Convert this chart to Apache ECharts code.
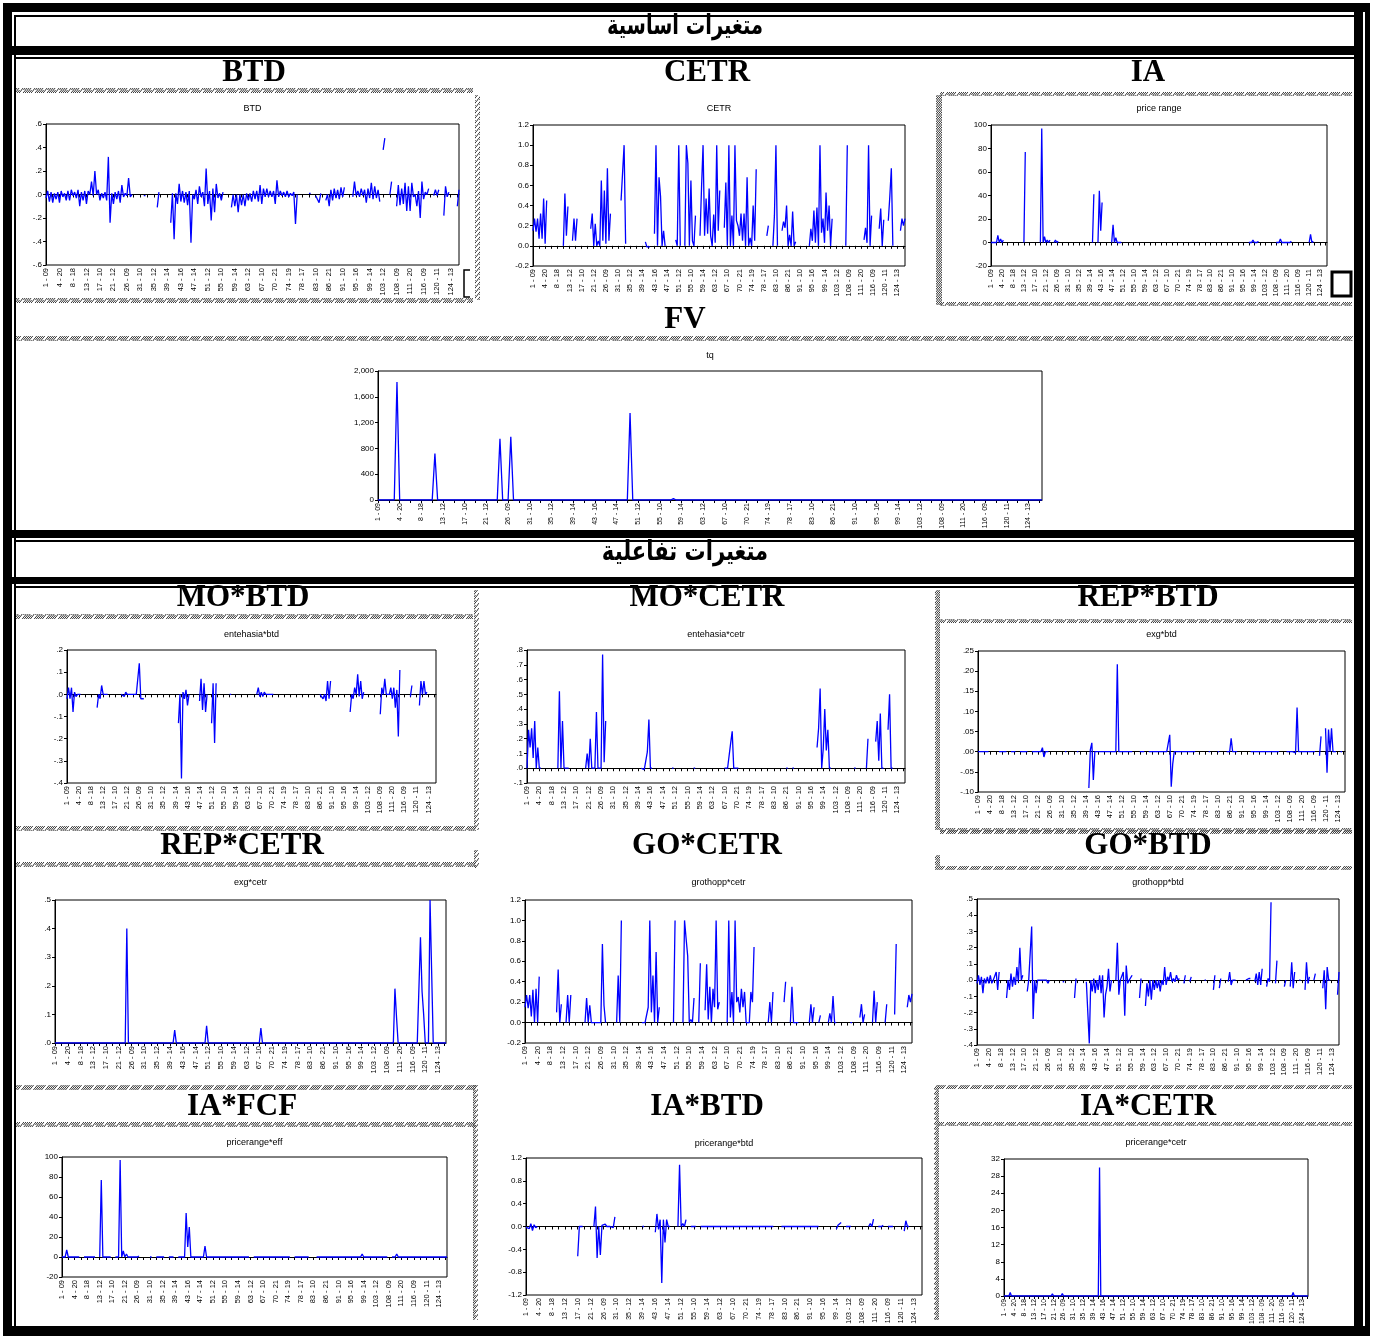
<!DOCTYPE html>
<html><head><meta charset="utf-8">
<script src="https://cdn.jsdelivr.net/npm/echarts@6/dist/echarts.min.js"></script>
<style>html,body{margin:0;padding:0;background:#fff}#c{width:1373px;height:1336px}</style>
</head><body><div id="c"></div><script>
const _ = null;
const tickLabels = ['1 - 09','4 - 20','8 - 18','13 - 12','17 - 10','21 - 12','26 - 09','31 - 10','35 - 12','39 - 14','43 - 16','47 - 14','51 - 12','55 - 10','59 - 14','63 - 12','67 - 10','70 - 21','74 - 19','78 - 17','83 - 10','86 - 21','91 - 10','95 - 16','99 - 14','103 - 12','108 - 09','111 - 20','116 - 09','120 - 11','124 - 13'];

// each entry = one bin of observations: null (missing), a value, or [first,second] range
const BTD = [
 [-.03,.03],[-.06,.02],[-.07,.01],[-.04,.02],[-.07,.03],[-.02,.01],[-.05,.03],[-.05,.04],[-.01,.02],[-.03,.04],
 [-.1,.02],[-.05,.03],[-.08,.03],[0,.11],[-.01,.2],[0,.04],[-.05,.01],[-.03,.02],[-.05,.32],[-.24,.01],
 [-.08,.02],[-.04,.03],[-.07,.08],[-.02,.01],[-.01,.14],[-.02,0],_,_,_,-.01,
 _,_,_,[-.11,.02],_,_,_,[-.24,.01],[-.38,.01],[-.08,.09],
 [-.06,.03],[-.07,.02],[-.09,.03],[-.41,0],[-.04,.04],[-.08,.07],[-.02,.02],[-.1,.22],[-.08,.03],[-.22,.05],
 [-.15,.09],[-.03,.01],[-.05,.02],_,_,[-.11,0],[-.1,0],[-.15,0],[-.09,0],[-.1,.01],
 [-.05,.01],[-.06,.03],[-.04,.03],[-.06,.08],[-.08,.05],[-.02,.05],[-.02,.03],[-.02,.03],[-.08,.12],[-.02,.03],
 [-.01,.02],[-.02,.03],[-.02,.01],[-.01,.02],[-.25,0],_,_,_,.01,_,
 -.01,[-.07,.01],_,[-.05,0],[-.1,.04],[-.05,.05],[-.03,.04],[-.04,.06],[-.02,.06],_,
 _,[-.02,.11],[-.01,.03],[-.02,.05],[-.01,.04],[-.07,.05],[-.03,.1],[-.04,.07],[-.03,.04],[-.06,_],
 [.38,.48],_,[0,.11],_,[-.1,.08],[-.09,.05],[-.08,.1],[-.14,.07],[-.14,.1],[-.02,0],
 [-.1,.03],[-.2,.11],[-.04,.02],[0,.05],_,[-.01,.04],[-.01,.04],_,[-.18,.07],[-.02,.02],
 _,_,[-.1,.04]
];
const CETR = [
 [.15,.27],[.14,.27],[.07,.32],[.07,.47],[.02,.45],_,_,_,_,_,
 [0,.52],[.1,.39],_,[.05,.27],[.05,.27],_,_,_,_,[.17,.32],
 [0,.22],[0,.05],[0,.65],[.05,.55],[.02,.77],[.05,.32],_,_,_,[.45,.45],
 [1.0,.02],_,_,_,_,_,_,[.04,-.01],[0,-.01],_,
 [.12,1.0],[0,.68],[.49,0],[.15,0],_,_,_,[.06,0],[1.0,0],_,
 [0,1.0],[.82,0],[.65,.05],[0,.3],_,[.1,.58],[1.0,.1],[.47,.12],[.57,.1],[0,.31],
 [.03,1.0],[.15,.55],_,[.18,.63],[0,1.0],[0,.3],[0,1.0],[.25,.2],[.1,.32],[.05,.32],
 [0,.68],[0,.08],[0,.4],[.05,.76],_,_,_,[.1,.2],_,[0,.3],
 [1.0,0],_,[.15,.24],[.18,.4],[0,.11],[0,.34],[0,.04],_,_,_,
 _,[0,.17],[.05,.35],[.03,.38],[0,1.0],[.13,.27],[.03,.53],[.15,.4],[0,.27],_,
 _,_,_,[0,1.0],_,_,_,_,_,[.06,.18],
 [.03,1.0],[0,.3],_,_,[.17,.37],[0,.26],_,[.25,.49],[.77,0],_,
 _,[.15,.27],[.2,.27]
];
const IA = [
 [0,1],[0,1],[0,6],[0,3],[0,2],_,_,_,_,_,
 _,_,[0,77],_,_,_,_,_,[0,97],[0,5],
 [0,2],[0,2],_,[0,2],[0,1],_,_,_,_,_,
 _,_,_,_,_,_,_,[0,41],_,[0,44],
 [10,34],_,_,_,[0,15],[0,4],[0,1],0,_,_,
 _,_,_,_,_,_,_,_,_,_,
 _,_,_,_,_,_,_,_,_,_,
 _,_,_,_,_,_,_,_,_,_,
 _,_,_,_,_,_,_,_,_,_,
 _,_,_,_,[0,1],[0,2],[0,1],[0,1],_,_,
 _,_,_,_,[0,1],[0,3],[0,1],[0,1],[0,1],[0,1],
 _,_,_,_,_,_,[0,7],[0,1],_,_,
 _,_,_
];
const FV = [
 0,0,0,[0,1830],0,0,0,0,0,0,
 [0,720],0,0,0,0,0,0,0,0,0,
 0,0,[0,950],0,[0,980],0,0,0,0,0,
 0,0,0,0,0,0,0,0,0,0,
 0,0,0,0,0,0,[0,1350],0,0,0,
 0,0,0,0,[0,20],0,0,0,0,0,
 0,0,0,0,0,0,0,0,0,0,
 0,0,0,0,0,0,0,0,0,0,
 0,0,0,0,0,0,0,0,0,0,
 0,0,0,0,0,0,0,0,0,0,
 0,0,0,0,0,0,0,0,0,0,
 0,0,0,0,0,0,0,0,0,0,
 0,0,0
];
const MO_BTD = [
 [-.02,.03],[-.02,.03],[-.08,.01],[-.01,0],0,_,_,_,_,_,
 [-.06,0],[-.02,.04],0,0,_,_,_,_,0,[-.01,.01],
 0,0,0,0,[.14,-.02],-.02,_,_,_,_,
 _,_,_,_,_,_,_,[-.13,0],[-.38,.01],[-.02,.02],
 [-.05,0],_,_,_,[-.03,.07],[-.07,.05],[-.08,0],_,[-.13,.05],[-.22,.05],
 _,_,_,_,0,_,_,_,_,_,
 _,_,_,[0,.03],[-.01,.01],[-.01,.01],0,0,0,_,
 _,_,_,_,_,_,_,_,_,_,
 _,_,_,_,0,[-.02,0],[-.03,.06],[-.02,.06],_,_,
 _,_,_,_,[-.08,0],[-.02,.03],[0,.09],[-.01,.06],[-.02,.01],_,
 _,_,_,_,[-.09,.03],[0,.07],0,[0,.03],[-.02,.03],[-.06,.02],
 [-.19,.11],_,_,_,[-.01,.04],_,_,[-.05,.06],[0,.06],[0,.01],
 _,_,_
];
const MO_CETR = [
 [0,.26],[.14,.27],[.07,.32],[0,.14],0,_,_,_,_,_,
 [0,.52],[0,.32],0,0,_,_,_,_,_,[0,.1],
 [0,.2],0,[0,.38],0,[0,.77],[.04,.32],_,_,_,_,
 _,_,_,_,_,_,_,0,[-.01,0],[.11,.33],
 0,_,_,_,_,_,_,0,_,_,
 _,_,_,_,0,_,_,_,_,_,
 _,_,_,_,0,0,[.17,.25],0,0,_,
 _,_,_,_,_,_,_,_,_,_,
 _,_,_,_,0,_,0,_,_,_,
 _,_,_,_,[.14,.27],[.54,0],[.13,.4],[.12,.26],0,_,
 _,_,_,_,_,_,0,_,_,_,
 [0,.2],_,_,[.18,.32],[.05,.37],0,_,[.26,.5],0,_,
 _,_,_
];
const REP_BTD = [
 0,0,0,0,_,_,_,0,0,0,
 _,0,0,_,0,0,0,_,0,0,
 0,[0,.01],[-.013,0],0,_,_,_,_,_,0,
 _,_,_,0,_,_,_,[-.09,.005],[.022,-.07],0,
 0,0,0,0,0,0,[0,.217],0,0,0,
 0,0,_,_,0,0,_,0,0,0,
 0,0,0,0,[.042,-.087],[-.03,0],0,0,0,0,
 0,0,0,_,_,_,_,0,_,_,
 0,_,_,0,[0,.033],0,0,_,_,_,
 _,0,0,0,0,0,0,0,0,0,
 0,_,_,0,0,0,[-.003,.11],0,0,0,
 0,0,0,_,[-.01,.038],_,[.058,-.052],[.055,0],[.058,0],0,
 _,0,_
];
const REP_CETR = [
 0,0,0,0,0,0,0,0,0,0,
 0,0,0,0,0,0,0,0,0,0,
 0,0,[0,.4],0,0,0,0,0,0,0,
 0,0,0,0,0,0,0,[0,.045],0,0,
 0,0,0,0,0,0,0,[0,.06],0,0,
 0,0,0,0,0,0,0,0,0,0,
 0,0,0,0,[0,.052],0,0,0,0,0,
 0,0,0,0,0,0,0,0,0,0,
 0,0,0,0,0,0,0,0,0,0,
 0,0,0,0,0,0,0,0,0,0,
 0,0,0,0,0,0,[0,.19],[.09,0],0,0,
 0,0,0,0,[0,.37],[.18,.1],0,[0,.5],[.25,0],0,
 0,0,0
];
const GO_CETR = [
 [.15,.27],[.14,.27],[.06,.32],[0,.33],[0,.45],_,_,_,_,_,
 [.1,.52],[0,.18],_,[0,.27],[0,.27],_,_,_,_,[0,.24],
 [0,.17],0,0,0,[0,.77],[.17,0],_,_,_,[0,.46],
 [0,1.0],_,_,_,_,_,_,0,0,[.15,1.0],
 [.1,.46],[0,.69],[0,.15],_,_,_,_,[0,1.0],_,_,
 [0,1.0],[.82,.65],[0,.03],[0,.24],_,[0,.58],_,[.12,.57],[.03,.35],[0,.33],
 [.15,1.0],[.13,.2],_,_,[0,1.0],[.05,.3],[0,1.0],[.2,.25],[.1,.33],[.15,.3],
 0,[0,.3],[.2,.74],_,_,_,_,[0,.2],[0,.3],_,
 _,_,[.2,.4],_,[0,.35],0,0,_,_,_,
 [0,.18],[0,.15],_,[0,.07],_,_,[0,.09],[0,.26],0,_,
 _,_,_,0,_,_,[.05,.18],[0,.08],_,_,
 [0,.31],[0,.2],_,_,[0,.18],_,_,[.08,.77],_,_,
 _,[.15,.27],[.2,.28]
];
const GO_BTD = [
 [-.02,.03],[-.03,.02],[-.08,.01],[-.02,.02],[-.02,.03],[-.02,0],[-.01,.05],[-.06,.05],_,_,
 [-.11,0],[-.06,.04],[-.04,.02],[-.03,.08],[-.01,.2],[0,.03],_,[-.07,0],[0,.33],[-.24,0],
 [-.08,0],[-.01,0],[-.01,0],[-.01,0],[-.02,0],_,_,_,_,-.01,
 _,_,_,[-.11,.01],_,_,_,[-.01,0],[-.39,0],[-.07,.01],
 [-.08,0],[-.06,.03],[-.08,.03],[-.23,-.09],[-.04,.07],[-.07,0],_,[0,.23],[-.09,0],[0,.05],
 [-.22,.09],[-.02,0],[0,.03],_,_,[-.11,.01],_,[-.16,-.02],[-.1,0],[-.12,0],
 [-.06,0],[-.05,0],[-.07,0],[-.03,.08],[-.03,.02],[0,.05],[-.01,.01],[-.01,.03],[0,.01],_,
 [-.02,.03],_,[-.01,.02],_,_,_,_,0,_,_,
 [-.06,.03],_,[-.05,.01],_,_,[-.01,.05],[-.03,0],0,_,_,
 _,0,.01,_,[-.01,.04],[-.03,.05],[-.03,.07],_,[-.04,.01],[-.01,.48],
 _,[-.02,.12],_,_,[-.04,0],_,[-.04,.11],[-.05,.05],_,0,
 _,[-.06,.11],[-.02,.02],_,[0,.04],_,_,[-.05,.06],[-.18,.08],0,
 _,_,[-.09,.05]
];
const IA_FCF = [
 [0,2],[0,7],[0,2],[0,2],0,0,_,0,0,0,
 0,_,[0,77],0,0,0,_,0,[0,97],[0,6],
 [0,3],[0,2],[0,1],[0,2],[0,1],_,_,_,0,_,
 0,0,0,_,0,0,_,0,[0,1],[0,44],
 [10,30],0,0,0,0,[0,11],[0,2],[0,1],0,0,
 0,0,0,0,0,0,0,0,0,0,
 _,0,0,0,0,0,0,0,0,0,
 0,[0,1],0,_,0,0,0,0,0,_,
 _,0,0,0,0,0,0,0,0,0,
 0,0,0,0,0,[0,3],[0,1],0,0,0,
 0,0,0,0,_,0,[0,3],[0,1],[0,2],[0,1],
 0,0,0,0,0,0,0,0,0,0,
 0,0,0
];
const IA_BTD = [
 [-.01,.02],[-.04,.05],[-.07,.03],[-.02,0],_,_,_,_,_,_,
 _,_,_,_,_,_,[-.52,0],0,_,_,
 _,[0,.35],[-.55,0],[-.5,.02],[0,.04],0,0,[-.02,.17],_,_,
 _,_,_,_,_,_,0,_,_,_,
 [-.1,.22],[-.05,.12],[-.99,.12],[-.28,.12],0,_,_,[0,1.08],[0,.05],[0,.12],
 _,0,0,_,0,0,0,0,0,0,
 0,0,0,0,0,0,0,0,0,0,
 0,0,0,0,0,0,0,_,_,0,
 0,0,0,0,0,0,0,0,0,0,
 0,_,_,_,_,_,[-.05,.02],[0,.07],_,0,
 0,_,_,_,_,_,[0,.05],[0,.13],_,0,
 [0,.02],_,0,0,_,_,_,[-.08,.1],0,_,
 _,_,_
];
const IA_CETR = [
 0,[0,.3],[0,.8],0,0,0,0,0,0,0,
 0,0,0,0,0,0,0,0,0,[0,.5],
 0,0,0,[0,.6],0,0,0,0,0,0,
 0,0,0,0,0,0,0,0,[0,30],0,
 0,0,0,0,0,0,0,0,0,0,
 0,0,0,0,0,0,0,0,0,0,
 0,0,0,0,0,0,0,0,0,0,
 0,0,0,0,0,0,0,0,0,0,
 0,0,0,0,0,0,0,0,0,0,
 0,0,0,[0,.3],0,[0,.3],0,0,0,0,
 0,0,0,0,0,[0,.1],0,0,0,0,
 0,0,0,0,0,0,[0,.8],0,0,0,
 0,0,0
];

function flat(arr){const o=[];arr.forEach(e=>{if(e===null){o.push('-','-');}else if(Array.isArray(e)){o.push(e[0]===null?'-':e[0],e[1]===null?'-':e[1]);}else{o.push(e,e);}});return o;}
const NCAT = BTD.length*2;
const cats=[];for(let i=0;i<NCAT;i++)cats.push(String(i));

const dot1=v=>{const s=Math.abs(v).toFixed(1).replace(/^0/,'');return (v<-1e-9?'-':'')+s;};
const dot2=v=>{const s=Math.abs(v).toFixed(2).replace(/^0/,'');return (v<-1e-9?'-':'')+s;};
const lead1=v=>{const s=Math.abs(v).toFixed(1);return (v<-1e-9?'-':'')+s;};
const intf=v=>String(Math.round(v));
const comma=v=>Math.round(v).toLocaleString('en-US');

const panels=[
 {d:BTD, title:'BTD', sub:'BTD', tx:254, ty:73, sy:109, g:[46,124,413,141], min:-.6,max:.6,iv:.2,f:dot1},
 {d:CETR, title:'CETR', sub:'CETR', tx:707, ty:73, sy:109, g:[533,125,372,141], min:-.2,max:1.2,iv:.2,f:lead1},
 {d:IA, title:'IA', sub:'price range', tx:1148, ty:73, sy:109, g:[991,125,336,141], min:-20,max:100,iv:20,f:intf},
 {d:FV, title:'FV', sub:'tq', tx:685, ty:320, sy:356, g:[378,371,664,129], min:0,max:2000,iv:400,f:comma, xfs:7},
 {d:MO_BTD, title:'MO*BTD', sub:'entehasia*btd', tx:243, ty:598, sy:635, g:[67,650,369,133], min:-.4,max:.2,iv:.1,f:dot1},
 {d:MO_CETR, title:'MO*CETR', sub:'entehasia*cetr', tx:707, ty:598, sy:635, g:[527,650,378,133], min:-.1,max:.8,iv:.1,f:dot1},
 {d:REP_BTD, title:'REP*BTD', sub:'exg*btd', tx:1148, ty:598, sy:635, g:[978,651,367,141], min:-.1,max:.25,iv:.05,f:dot2},
 {d:REP_CETR, title:'REP*CETR', sub:'exg*cetr', tx:242, ty:846, sy:883, g:[55,900,391,143], min:0,max:.5,iv:.1,f:dot1},
 {d:GO_CETR, title:'GO*CETR', sub:'grothopp*cetr', tx:707, ty:846, sy:883, g:[525,900,387,143], min:-.2,max:1.2,iv:.2,f:lead1},
 {d:GO_BTD, title:'GO*BTD', sub:'grothopp*btd', tx:1148, ty:846, sy:883, g:[977,899,362,146], min:-.4,max:.5,iv:.1,f:dot1},
 {d:IA_FCF, title:'IA*FCF', sub:'pricerange*eff', tx:242, ty:1107, sy:1143, g:[62,1157,385,120], min:-20,max:100,iv:20,f:intf},
 {d:IA_BTD, title:'IA*BTD', sub:'pricerange*btd', tx:707, ty:1107, sy:1144, g:[526,1158,396,137], min:-1.2,max:1.2,iv:.4,f:lead1, xfs:7},
 {d:IA_CETR, title:'IA*CETR', sub:'pricerange*cetr', tx:1148, ty:1107, sy:1143, g:[1004,1159,304,137], min:0,max:32,iv:4,f:intf, xfs:6.8}
];

function hatchCanvas(){const c=document.createElement('canvas');c.width=12;c.height=5;const g=c.getContext('2d');g.strokeStyle='#3a3a3a';g.lineWidth=1;g.beginPath();[0,2,4,6,10].forEach(i=>{g.moveTo(i-1,5.5);g.lineTo(i+4,-0.5);g.moveTo(i+11,5.5);g.lineTo(i+16,-0.5);g.moveTo(i-13,5.5);g.lineTo(i-8,-0.5);});g.stroke();return c;}
const HC=hatchCanvas();
const hat=(x,y,w,h)=>({type:'rect',silent:true,shape:{x,y,width:w,height:h},style:{fill:{image:HC,repeat:'repeat'}}});
const blk=(x,y,w,h)=>({type:'rect',silent:true,shape:{x,y,width:w,height:h},style:{fill:'#000'}});
const txt=(x,y,t,font,sx)=>({type:'text',silent:true,x,y,scaleX:sx||1,style:{text:t,font,fill:'#000',textAlign:'center',textVerticalAlign:'middle',align:'center',verticalAlign:'middle'}});

const els=[
 // outer frame
 blk(3,3,1367,9), blk(3,3,9,1333), blk(1354,3,9,1333), blk(1365,3,5,1333), blk(3,1326,1367,10),
 blk(14,15,2,1311), blk(14,15,1340,2),
 blk(12,46,1342,9), blk(14,57,1340,2),
 blk(12,530,1342,8), blk(14,540,1340,2),
 blk(12,577,1342,7), blk(14,586,1340,2),
 txt(685,27,'متغيرات اساسية','bold 27px "DejaVu Sans"',0.72),
 txt(685,553,'متغيرات تفاعلية','bold 27px "DejaVu Sans"',0.78),
 // hatched borders, section 1
 hat(16,88,457,5), hat(16,298,457,5), hat(475,95,5,205), hat(936,95,6,210),
 hat(940,92,412,4), hat(940,302,412,4), hat(16,336,1337,5),
 // section 2
 hat(16,614,457,5), hat(16,826,460,5), hat(940,619,412,4), hat(940,828,412,4),
 hat(474,590,5,240), hat(935,590,5,240),
 hat(16,862,460,5), hat(16,1085,460,5), hat(474,850,5,18), hat(935,855,5,15),
 hat(940,830,412,4), hat(940,866,412,4),
 hat(16,1122,460,5), hat(473,1085,5,235), hat(934,1085,5,235),
 hat(938,1085,414,4), hat(938,1122,414,4),
 // small marks
 {type:'rect',silent:true,shape:{x:1332,y:272,width:19,height:24},style:{fill:'#fff',stroke:'#000',lineWidth:3}},
 {type:'polyline',silent:true,shape:{points:[[470,270],[464,270],[464,297],[470,297]]},style:{fill:null,stroke:'#000',lineWidth:1.5}}
];
panels.forEach(p=>{
 els.push(txt(p.tx,p.ty,p.title,'bold 31px "Liberation Serif"'));
 els.push(txt(p.g[0]+p.g[2]/2,p.sy,p.sub,'9px "Liberation Sans"'));
});

const grid=[],xAxis=[],yAxis=[],series=[];
panels.forEach((p,i)=>{
 grid.push({left:p.g[0],top:p.g[1],width:p.g[2],height:p.g[3],show:true,borderColor:'#000',borderWidth:1,backgroundColor:'#fff',containLabel:false});
 xAxis.push({type:'category',gridIndex:i,data:cats,boundaryGap:false,
  axisLine:{lineStyle:{color:'#000',width:1}},
  axisTick:{interval:3,length:3,lineStyle:{color:'#000'}},
  axisLabel:{interval:7,rotate:90,fontSize:p.xfs||7.5,color:'#000',fontFamily:'Liberation Sans',margin:3,
   formatter:(v,idx)=>{const n=Number(v);return n%8===0?(tickLabels[n/8]||''):'';}},
  splitLine:{show:false}});
 yAxis.push({type:'value',gridIndex:i,min:p.min,max:p.max,interval:p.iv,
  axisLine:{show:true,lineStyle:{color:'#000',width:1}},
  axisTick:{show:true,length:3,lineStyle:{color:'#000'}},
  splitLine:{show:false},
  axisLabel:{formatter:p.f,fontSize:8,color:'#000',fontFamily:'Liberation Sans',margin:4}});
 series.push({type:'line',xAxisIndex:i,yAxisIndex:i,data:flat(p.d),symbol:'none',showSymbol:false,connectNulls:false,
  lineStyle:{color:'#0000ff',width:1.3},silent:true,animation:false,z:3});
});

const chart=echarts.init(document.getElementById('c'),null,{renderer:'canvas'});
chart.setOption({backgroundColor:'#fff',animation:false,grid,xAxis,yAxis,series,graphic:{elements:els}});
</script></body></html>
